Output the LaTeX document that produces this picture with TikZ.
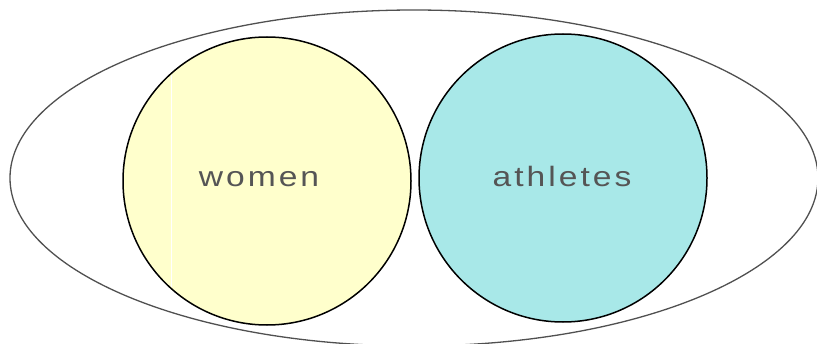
\documentclass[tikz,border=0pt]{standalone}
\usepackage{graphicx}
\usepackage{fontspec}
\setmainfont{Liberation Sans}[LetterSpace=9]
\begin{document}
\begin{tikzpicture}[x=1pt,y=1pt,
  setline/.style={line width=1.5pt},
  lbl/.style={anchor=base, text=labelgray, font=\fontsize{28}{34}\selectfont, inner sep=0pt}]
\definecolor{labelgray}{HTML}{555555}
\definecolor{outergray}{HTML}{505050}
\definecolor{womenfill}{HTML}{FFFFCC}
\definecolor{athfill}{HTML}{A8E8E8}
\useasboundingbox (0,0) rectangle (817,343);
\begin{scope}
\clip (0,0) rectangle (817,343);
\draw[outergray, line width=1.3pt] (414,165) ellipse [x radius=404, y radius=168];
\end{scope}
\draw[setline, fill=womenfill] (267,162) circle [radius=144];
\draw[setline, fill=athfill] (563,165) circle [radius=144];
\draw[white, line width=1pt] (171,268) -- (171,56);
\node[lbl] (women) at (259,156) {\scalebox{1.2}[1]{women}};
\node[lbl] (athletes) at (562,156) {\scalebox{1.2}[1]{athletes}};
\end{tikzpicture}
\end{document}
